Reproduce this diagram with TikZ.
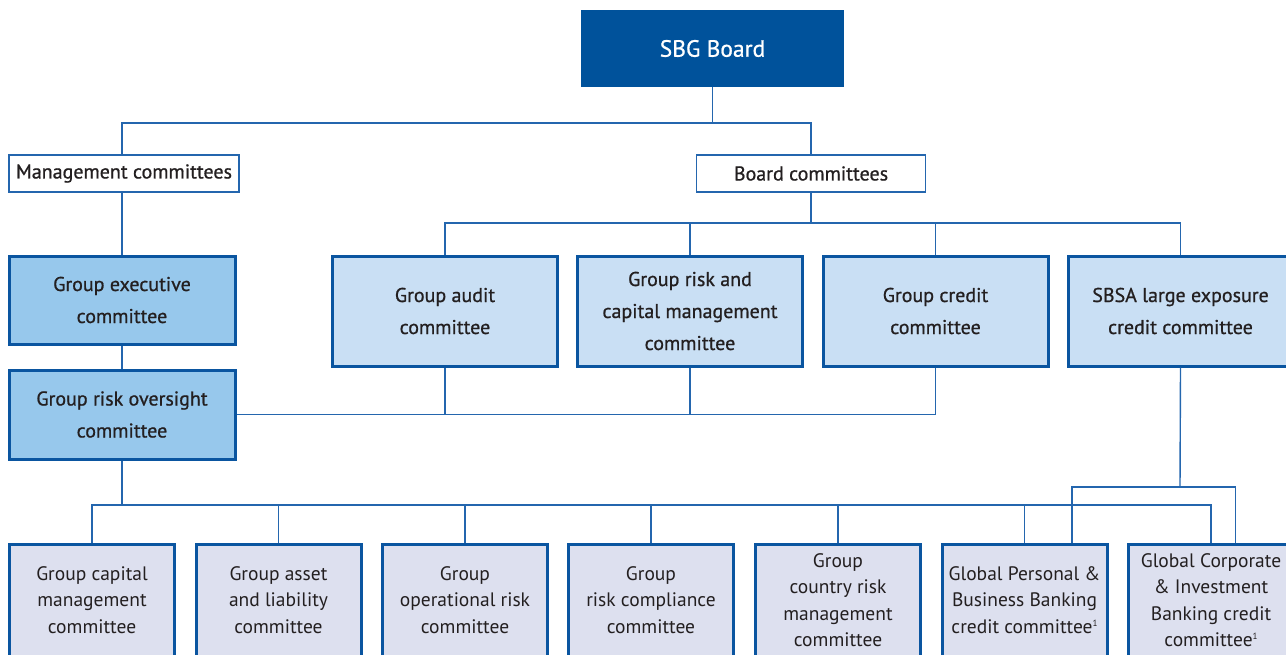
\documentclass[tikz,border=0pt]{standalone}
\usepackage{fontspec}
\setmainfont{PT Sans}
\newfontfamily\medfont[FakeBold=0.8]{PT Sans}
\definecolor{boardblue}{HTML}{00529B}
\definecolor{edgeblue}{HTML}{0A55A0}
\definecolor{wireblue}{HTML}{2466AE}
\definecolor{paleblue}{HTML}{C9DFF4}
\definecolor{midblue}{HTML}{97C8EC}
\definecolor{lavender}{HTML}{DDE0EF}
\definecolor{ink}{HTML}{231F20}
\newcommand{\fnmark}{\raisebox{0.75ex}{\fontsize{9}{9}\selectfont 1}}
\begin{document}
\begin{tikzpicture}[x=1pt,y=-1pt,
  wire/.style={draw=wireblue,line width=1.4pt},
  boardbox/.style={fill=boardblue,draw=none,text=white,inner sep=0pt,
    minimum width=263pt,minimum height=77pt,
    font=\medfont\fontsize{23.5}{28}\selectfont},
  headbox/.style={draw=wireblue,line width=1.6pt,fill=white,text=ink,inner sep=0pt,
    minimum height=37pt,font=\medfont\fontsize{20}{24}\selectfont},
  upbox/.style={draw=edgeblue,line width=3pt,fill=paleblue,text=ink,inner sep=0pt,
    minimum width=225pt,minimum height=110pt,align=center,
    font=\medfont\fontsize{20}{32}\selectfont},
  leftbox/.style={upbox,fill=midblue,minimum width=226pt},
  lowbox/.style={draw=edgeblue,line width=3pt,fill=lavender,text=ink,inner sep=0pt,
    minimum width=165pt,minimum height=112pt,align=center,
    font=\fontsize{19.5}{26.5}\selectfont}]
\useasboundingbox (0,0) rectangle (1286,654);
\clip (0,0) rectangle (1286,654);

% top of the chart
\node[boardbox] (board) at (712.5,48.5) {SBG Board};
\node[headbox,minimum width=230pt] (mgmt) at (124,173.5) {Management committees};
\node[headbox,minimum width=229pt] (bcom) at (811,173.5) {Board committees};

% management side
\node[leftbox,minimum height=88pt] (exec) at (122,300) {Group executive\\committee};
\node[leftbox,minimum height=89pt] (over) at (122,414.5) {Group risk oversight\\committee};

% board committees
\node[upbox] (audit) at (445,311) {Group audit\\committee};
\node[upbox] (riskcap) at (690,311) {Group risk and\\capital management\\committee};
\node[upbox] (credit) at (935.5,311) {Group credit\\committee};
\node[upbox] (sbsa) at (1180.5,311) {SBSA large exposure\\credit committee};

% risk committees
\node[lowbox] (b1) at (92,600) {Group capital\\management\\committee};
\node[lowbox] (b2) at (278.5,600) {Group asset\\and liability\\committee};
\node[lowbox] (b3) at (465,600) {Group\\operational risk\\committee};
\node[lowbox] (b4) at (651,600) {Group\\risk compliance\\committee};
\node[lowbox] (b5) at (838,600) {Group\\country risk\\management\\committee};
\node[lowbox] (b6) at (1024.5,600) {Global Personal \&\\Business Banking\\credit committee\fnmark};
\node[lowbox] (b7) at (1211,600) {Global Corporate\\\& Investment\\Banking credit\\committee\fnmark};

% junction points of the connector buses
\coordinate (topbus) at (712.5,123);
\coordinate (midbus) at (811,223);
\coordinate (lowbus) at (122,505);
\coordinate (sbbus) at (1180,487);
\coordinate (b6tap) at ([xshift=47.5pt]b6.north);
\coordinate (b7tap) at ([xshift=24.5pt]b7.north);

% connectors
\draw[wire] (board.south) -- (topbus);
\draw[wire] (mgmt.north -| exec.north) |- (topbus) -| (bcom.north);
\draw[wire] (mgmt.south -| exec.north) -- (exec.north);
\draw[wire] (exec.south) -- (over.north);
\draw[wire] (bcom.south) -- (midbus);
\draw[wire] (audit.north) |- (midbus) -| (sbsa.north);
\draw[wire] (riskcap.north) -- (riskcap.north |- midbus);
\draw[wire] (credit.north) -- (credit.north |- midbus);
\draw[wire] (over.east) -- (credit.south |- over.east);
\draw[wire] (audit.south) -- (audit.south |- over.east);
\draw[wire] (riskcap.south) -- (riskcap.south |- over.east);
\draw[wire] (credit.south) -- (credit.south |- over.east);
\draw[wire] (over.south) -- (lowbus);
\draw[wire] (b1.north) |- (lowbus) -| (b7.north);
\foreach \b in {b2,b3,b4,b5,b6}
  \draw[wire] (\b.north) -- (\b.north |- lowbus);
\draw[wire] (sbsa.south) -- (sbbus);
\draw[wire] (b6tap) |- (sbbus) -| (b7tap);
\end{tikzpicture}
\end{document}
